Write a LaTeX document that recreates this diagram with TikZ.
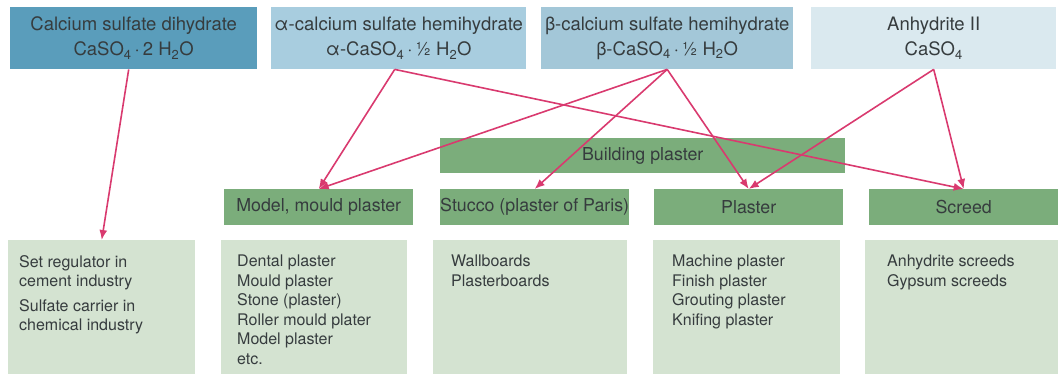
\documentclass[tikz,border=0pt]{standalone}
\usepackage{fontspec}
\setmainfont{TeX Gyre Heros}
\usepackage{xcolor}
\usetikzlibrary{arrows.meta,positioning}
\definecolor{dihydblue}{HTML}{5A9DBB}
\definecolor{hemiblue}{HTML}{A8CDDF}
\definecolor{anhydblue}{HTML}{DAE9EF}
\definecolor{appgreen}{HTML}{7BAD7B}
\definecolor{usegreen}{HTML}{D4E3D1}
\definecolor{txtgray}{HTML}{363C3E}
\definecolor{arrowpink}{HTML}{D93A6F}

\begin{document}
\begin{tikzpicture}[x=1pt,y=-1pt,
    phase/.style={anchor=north west, inner sep=0pt, align=center, text=txtgray,
      minimum height=62pt, font=\fontsize{18.5}{25}\selectfont},
    appl/.style={anchor=north west, inner sep=0pt, fill=appgreen, text=txtgray,
      minimum height=36pt, font=\fontsize{17.8}{22}\selectfont},
    usebox/.style={anchor=north west, inner sep=0pt, fill=usegreen, minimum height=134pt},
    usetext/.style={anchor=north west, inner sep=0pt, align=left, text=txtgray,
      font=\fontsize{16}{19.5}\selectfont},
    arr/.style={arrowpink, line width=1.6pt, -{Latex[length=10pt,width=8pt]}}]
  \useasboundingbox (0,0) rectangle (1058,374);
  % raw materials
  \node[phase, fill=dihydblue, minimum width=247pt] (dihyd) at (10,7)
    {Calcium sulfate dihydrate\\CaSO\textsubscript{4}\,·\,2 H\textsubscript{2}O};
  \node[phase, fill=hemiblue, minimum width=255pt] (alpha) at (271,7)
    {α-calcium sulfate hemihydrate\\α-CaSO\textsubscript{4}\,·\,½ H\textsubscript{2}O};
  \node[phase, fill=hemiblue!97!black, minimum width=252pt] (beta) at (541,7)
    {β-calcium sulfate hemihydrate\\β-CaSO\textsubscript{4}\,·\,½ H\textsubscript{2}O};
  \node[phase, fill=anhydblue, minimum width=245pt] (anhyd) at (811,7)
    {Anhydrite II\\CaSO\textsubscript{4}};
  % applications
  \node[appl, minimum width=405pt, minimum height=35pt] (building) at (440,138) {Building plaster};
  \node[appl, minimum width=189pt] (model) at (224,189) {Model, mould plaster};
  \node[appl, minimum width=188pt] (stucco) at (440,189) {Stucco (plaster of Paris)};
  \node[appl, minimum width=189pt] (plaster) at (654,189) {Plaster};
  \node[appl, minimum width=189pt] (screed) at (869,189) {Screed};
  % uses
  \node[usebox, minimum width=187pt] (cement) at (8,240) {};
  \node[usebox, minimum width=186pt] (modeluse) at (221,240) {};
  \node[usebox, minimum width=194pt] (stuccouse) at (433,240) {};
  \node[usebox, minimum width=187pt] (plasteruse) at (653,240) {};
  \node[usebox, minimum width=193pt] (screeduse) at (865,240) {};
  \node[usetext] (cementtxt) at ([xshift=11pt,yshift=-15pt]cement.north west)
    {Set regulator in\\cement industry\\[5pt]Sulfate carrier in\\chemical industry};
  \node[usetext] (modeltxt) at ([xshift=16pt,yshift=-15pt]modeluse.north west)
    {Dental plaster\\Mould plaster\\Stone (plaster)\\Roller mould plater\\Model plaster\\etc.};
  \node[usetext] (stuccotxt) at ([xshift=18pt,yshift=-15pt]stuccouse.north west)
    {Wallboards\\Plasterboards};
  \node[usetext] (plastertxt) at ([xshift=19pt,yshift=-15pt]plasteruse.north west)
    {Machine plaster\\Finish plaster\\Grouting plaster\\Knifing plaster};
  \node[usetext] (screedtxt) at ([xshift=22pt,yshift=-15pt]screeduse.north west)
    {Anhydrite screeds\\Gypsum screeds};
  % connections
  \draw[arr] ([xshift=-5pt]dihyd.south) -- (cement.north);
  \draw[arr] ([xshift=-4pt]alpha.south) -- (model.north);
  \draw[arr] ([xshift=-4pt]alpha.south) -- (screed.north);
  \draw[arr] (beta.south) -- (model.north);
  \draw[arr] (beta.south) -- (stucco.north);
  \draw[arr] (beta.south) -- (plaster.north);
  \draw[arr] (anhyd.south) -- (plaster.north);
  \draw[arr] (anhyd.south) -- (screed.north);
\end{tikzpicture}
\end{document}
